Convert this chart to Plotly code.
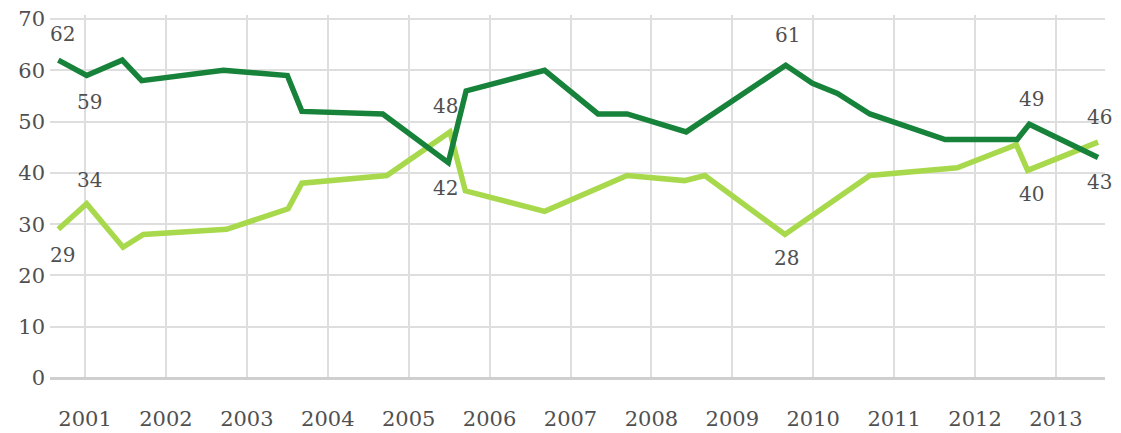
import plotly.graph_objects as go

# Dark green series (decimal years, values)
dark_x = [2000.67, 2001.02, 2001.46, 2001.70, 2002.71, 2003.50, 2003.68, 2004.68,
          2005.49, 2005.71, 2006.68, 2007.34, 2007.70, 2008.43, 2009.66, 2009.99,
          2010.30, 2010.70, 2011.63, 2012.52, 2012.67, 2013.52]
dark_y = [62, 59, 62, 58, 60, 59, 52, 51.5,
          42, 56, 60, 51.5, 51.5, 48, 61, 57.5,
          55.5, 51.5, 46.5, 46.5, 49.5, 43]

# Light green series
light_x = [2000.67, 2001.02, 2001.47, 2001.72, 2002.75, 2003.51, 2003.68, 2004.73,
           2005.51, 2005.70, 2006.68, 2007.70, 2008.41, 2008.66, 2009.65, 2010.70,
           2011.78, 2012.51, 2012.65, 2013.52]
light_y = [29, 34, 25.5, 28, 29, 33, 38, 39.5,
           48, 36.5, 32.5, 39.5, 38.5, 39.5, 28, 39.5,
           41, 45.5, 40.5, 46]

year_ticks = list(range(2001, 2014))
year_labels = [str(y) for y in year_ticks]
value_ticks = list(range(0, 80, 10))

# Labelled points: (x, y, text, yshift)
labels = [
    (2000.72, 62, "62", 26),
    (2001.06, 59, "59", -26),
    (2001.06, 34, "34", 24),
    (2000.72, 29, "29", -26),
    (2005.45, 48, "48", 26),
    (2005.45, 42, "42", -25),
    (2009.68, 61, "61", 30),
    (2009.67, 28, "28", -24),
    (2012.70, 49.5, "49", 25),
    (2012.70, 40.5, "40", -24),
    (2013.54, 46, "46", 25),
    (2013.54, 43, "43", -24),
]

DARK = "#17823a"
LIGHT = "#a8d94c"
FONT = "DejaVu Serif"
TXT = "#505050"

fig = go.Figure()
fig.add_trace(go.Scatter(x=light_x, y=light_y, mode="lines",
                         line=dict(color=LIGHT, width=5.5), hoverinfo="skip"))
fig.add_trace(go.Scatter(x=dark_x, y=dark_y, mode="lines",
                         line=dict(color=DARK, width=5.5), hoverinfo="skip"))

for x, y, t, ys in labels:
    fig.add_annotation(x=x, y=y, text=t, showarrow=False, yshift=ys,
                       font=dict(family=FONT, size=20, color=TXT))

# page body has an 8px default margin, so the figure is sized to fit inside it
fig.update_layout(
    width=1113, height=425,
    margin=dict(l=42, r=16, t=7, b=55, autoexpand=False),
    plot_bgcolor="white", paper_bgcolor="white",
    showlegend=False,
    font=dict(family=FONT, size=20, color=TXT),
)
fig.update_xaxes(range=[2000.567, 2013.606], tickvals=year_ticks, ticktext=year_labels,
                 showgrid=True, gridcolor="#dedede", gridwidth=2,
                 zeroline=False, showline=False, ticks="", automargin=False,
                 tickfont=dict(size=21), ticklabeloverflow="allow",
                 ticklabelstandoff=26, fixedrange=True)
fig.update_yaxes(range=[0, 70.8], tickvals=value_ticks,
                 showgrid=True, gridcolor="#dedede", gridwidth=2,
                 zeroline=True, zerolinecolor="#cfcfcf", zerolinewidth=3,
                 showline=False, ticks="", automargin=False,
                 tickfont=dict(size=21), ticklabeloverflow="allow",
                 ticklabelstandoff=4, fixedrange=True)

fig.write_html("out.html")
